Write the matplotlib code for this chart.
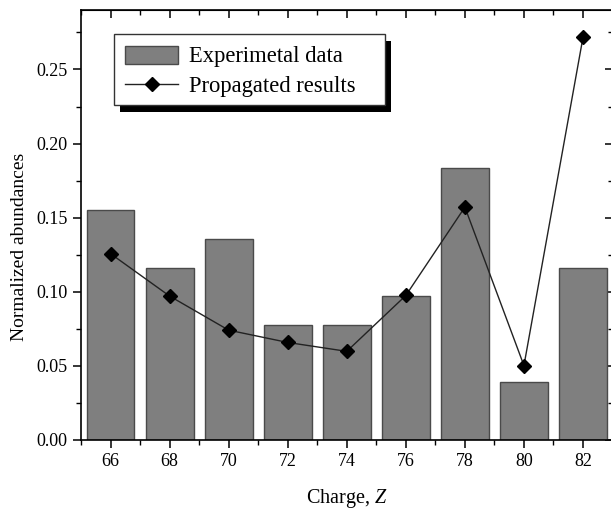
import matplotlib
matplotlib.use("Agg")
import matplotlib.pyplot as plt
from matplotlib.patches import Rectangle
from matplotlib.ticker import MultipleLocator, FormatStrFormatter

charge = [66, 68, 70, 72, 74, 76, 78, 80, 82]
experimental = [0.155, 0.116, 0.1355, 0.0775, 0.0775, 0.097, 0.1837, 0.039, 0.116]
propagated = [0.1257, 0.0971, 0.0741, 0.0658, 0.0598, 0.0975, 0.1571, 0.0502, 0.2717]

plt.rcParams['font.family'] = ['Liberation Serif', 'DejaVu Serif']
plt.rcParams['mathtext.fontset'] = 'custom'
plt.rcParams['mathtext.it'] = 'Liberation Serif:italic'
plt.rcParams['mathtext.rm'] = 'Liberation Serif'

fig = plt.figure(figsize=(6.11, 5.09), dpi=100)
ax = fig.add_axes([0.1326, 0.1356, 0.8699, 0.8444])

bars = ax.bar(charge, experimental, width=1.62, color='#7f7f7f', edgecolor='#4a4a4a',
              linewidth=1.0, label='Experimetal data', zorder=2)
line, = ax.plot(charge, propagated, color='#222222', linewidth=1.0, marker='D',
                markersize=7, markerfacecolor='black', markeredgecolor='black',
                label='Propagated results', zorder=3)

ax.set_xlim(65, 83)
ax.set_ylim(0, 0.29)
ax.xaxis.set_major_locator(MultipleLocator(2))
ax.xaxis.set_minor_locator(MultipleLocator(1))
ax.yaxis.set_major_locator(MultipleLocator(0.05))
ax.yaxis.set_minor_locator(MultipleLocator(0.025))
ax.yaxis.set_major_formatter(FormatStrFormatter('%.2f'))
ax.tick_params(which='major', direction='out', length=6, width=1.1, labelsize=13)
ax.tick_params(which='minor', direction='out', length=3.5, width=1.0)
for s in ax.spines.values():
    s.set_linewidth(1.2)

secx = ax.secondary_xaxis('top')
secx.xaxis.set_major_locator(MultipleLocator(2))
secx.xaxis.set_minor_locator(MultipleLocator(1))
secx.tick_params(which='major', direction='in', length=6, width=1.1, labeltop=False)
secx.tick_params(which='minor', direction='in', length=3.5, width=1.0)
secy = ax.secondary_yaxis('right')
secy.yaxis.set_major_locator(MultipleLocator(0.05))
secy.yaxis.set_minor_locator(MultipleLocator(0.025))
secy.tick_params(which='major', direction='in', length=6, width=1.1, labelright=False)
secy.tick_params(which='minor', direction='in', length=3.5, width=1.0)

ax.set_xlabel('Charge, $Z$', fontsize=14.5, labelpad=12)
ax.set_ylabel('Normalized abundances', fontsize=14)
ax.yaxis.set_label_coords(-0.100, 0.45)

leg = ax.legend([bars, line], ['Experimetal data', 'Propagated results'],
                loc='upper left', bbox_to_anchor=(0.062, 0.944), borderaxespad=0,
                fontsize=16.3, frameon=False, handlelength=2.35, handleheight=0.85,
                borderpad=0.5, labelspacing=0.35, handletextpad=0.45)
leg.set_zorder(7)

fig.canvas.draw()
bb = leg.get_window_extent()
inv = fig.transFigure.inverted()
extra_right = 18
lift = 4
(fx0, fy0), (fx1, fy1) = inv.transform([[bb.x0, bb.y0 + lift], [bb.x1 + extra_right, bb.y1]])
(sx0, sy0), (sx1, sy1) = inv.transform([[bb.x0 + 6, bb.y0 + lift - 7], [bb.x1 + extra_right + 6, bb.y1 - 7]])
shadow = Rectangle((sx0, sy0), sx1 - sx0, sy1 - sy0, transform=fig.transFigure,
                   facecolor='black', edgecolor='none', zorder=5)
frame = Rectangle((fx0, fy0), fx1 - fx0, fy1 - fy0, transform=fig.transFigure,
                  facecolor='white', edgecolor='#333333', linewidth=1.0, zorder=6)
ax.add_artist(shadow)
ax.add_artist(frame)

fig.savefig('out.png', dpi=100)
